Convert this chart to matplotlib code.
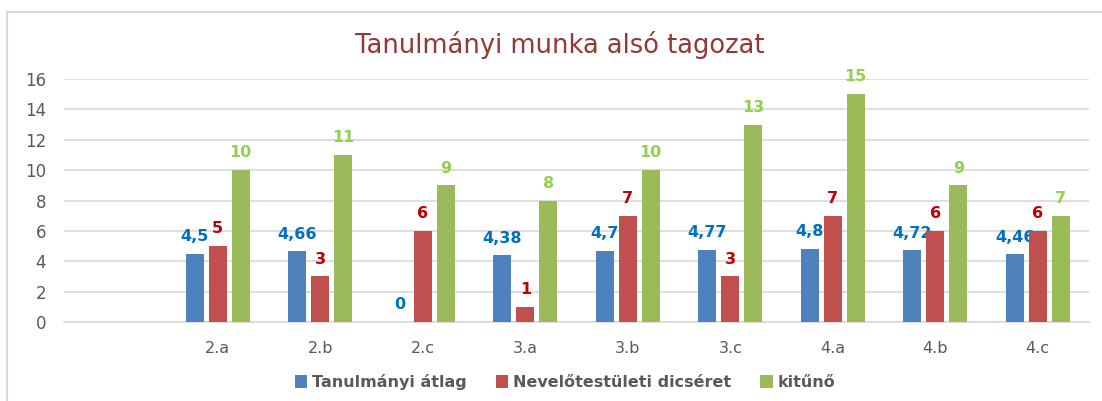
import matplotlib
matplotlib.use("Agg")
import matplotlib.pyplot as plt
from matplotlib.patches import Rectangle
import numpy as np

categories = ["", "2.a", "2.b", "2.c", "3.a", "3.b", "3.c", "4.a", "4.b", "4.c"]
atlag = [4.5, 4.66, 0, 4.38, 4.7, 4.77, 4.8, 4.72, 4.46]
dicseret = [5, 3, 6, 1, 7, 3, 7, 6, 6]
kituno = [10, 11, 9, 8, 10, 13, 15, 9, 7]
series_names = ["Tanulmányi átlag", "Nevelőtestületi dicséret", "kitűnő"]
bar_colors = ["#4F81BD", "#C0504D", "#9BBB59"]
label_colors = ["#0070C0", "#C00000", "#92D050"]

W, H = 1102, 401
fig = plt.figure(figsize=(W / 100, H / 100), dpi=100)
ax = fig.add_axes([64 / W, 79 / H, (1089 - 64) / W, (322 - 79) / H])

# chart frame, runs off the right and bottom edge
fig.patches.append(Rectangle((7 / W, -0.05), 1.2, (H - 12) / H + 0.05,
                             transform=fig.transFigure, fill=False,
                             edgecolor="#D9D9D9", linewidth=1.5))

x = np.arange(1, len(categories))
width = 0.176
step = 0.224
for i, (vals, name) in enumerate(zip([atlag, dicseret, kituno], series_names)):
    pos = x + (i - 1) * step
    bars = ax.bar(pos, vals, width, color=bar_colors[i], label=name, zorder=3)
    labels = [f"{v:g}".replace(".", ",") for v in vals]
    ax.bar_label(bars, labels=labels, padding=7, color=label_colors[i],
                 fontsize=11.5, fontweight="bold")

ax.set_xlim(-0.5, len(categories) - 0.5)
ax.set_ylim(0, 16)
ax.set_yticks(range(0, 17, 2))
ax.set_xticks(range(len(categories)))
ax.set_xticklabels(categories)
ax.tick_params(axis="both", length=0, colors="#595959", labelsize=11.5)
ax.tick_params(axis="y", labelsize=12, pad=13)
ax.tick_params(axis="x", pad=14)
ax.grid(axis="y", color="#D9D9D9", linewidth=1.2, zorder=0)
for side in ["top", "right", "left"]:
    ax.spines[side].set_visible(False)
ax.spines["bottom"].set_color("#D9D9D9")
ax.spines["bottom"].set_linewidth(1.2)

fig.text(560 / W, 1 - 45 / H, "Tanulmányi munka alsó tagozat", ha="center",
         va="center", fontsize=18.5, color="#953735")

leg = fig.legend(loc="center", bbox_to_anchor=(565 / W, 1 - 382 / H), ncol=3,
                 frameon=False, handlelength=0.8, handleheight=0.8,
                 handletextpad=0.3, columnspacing=1.8,
                 prop={"weight": "bold", "size": 11.5})
for t in leg.get_texts():
    t.set_color("#595959")

fig.savefig("out.png", dpi=100)
